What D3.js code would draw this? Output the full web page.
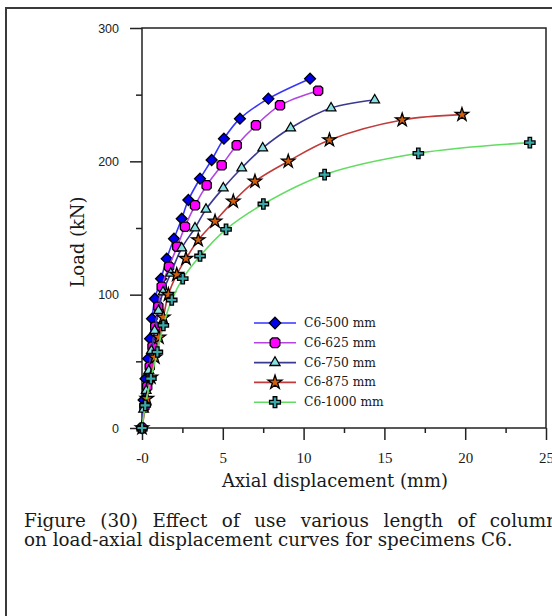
<!DOCTYPE html>
<html lang="en">
<head>
<meta charset="utf-8">
<title>Load - axial displacement, C6</title>
<script src="https://cdn.jsdelivr.net/npm/d3@7"></script>
<style>
  body { margin: 0; background: #fff; }
  svg { display: block; }
  .serif { font-family: "DejaVu Serif", "Liberation Serif", serif; fill: #1a1a1a; }
  .ytick text { font-family: "Liberation Sans", sans-serif; font-size: 12.5px; fill: #222; }
  .xtick text { font-family: "Liberation Serif", serif; font-size: 15px; fill: #1a1a1a; }
  .ytick line, .xtick line { stroke: #222; stroke-width: 1.5px; }
  .line { fill: none; stroke-width: 1.6px; }
</style>
</head>
<body>
<script>
  // values (displacement mm / load kN)
  const seriesNames = ['C6-500 mm', 'C6-625 mm', 'C6-750 mm', 'C6-875 mm', 'C6-1000 mm']

  const disp500 = [0, 0.1, 0.22, 0.38, 0.5, 0.62, 0.8, 1.18, 1.53, 1.98, 2.46, 2.87, 3.59, 4.31, 5.07, 6.06, 7.82, 10.4]
  const load500 = [0, 21, 37, 52, 67, 82, 97, 112, 127, 142, 157, 171, 187, 201, 217, 232, 247, 262]

  const disp625 = [0, 0.15, 0.32, 0.48, 0.65, 0.82, 1.01, 1.22, 1.67, 2.18, 2.66, 3.28, 4.0, 4.93, 5.86, 7.05, 8.54, 10.9]
  const load625 = [0, 16, 31, 46, 61, 76, 91, 106, 121, 136, 151, 167, 182, 197, 212, 227, 242, 253]

  const disp750 = [0, 0.1, 0.26, 0.42, 0.58, 0.78, 1.02, 1.3, 1.78, 2.46, 3.28, 3.96, 5.03, 6.17, 7.47, 9.2, 11.7, 14.4]
  const load750 = [0, 14, 28, 43, 58, 73, 88, 102, 116, 135, 150, 164, 180, 195, 210, 225, 240, 246]

  const disp875 = [0, 0.3, 0.55, 0.8, 1.05, 1.32, 1.63, 2.15, 2.72, 3.48, 4.52, 5.65, 6.99, 9.05, 11.6, 16.1, 19.8]
  const load875 = [0, 22, 38, 53, 68, 83, 100, 115, 127, 141, 155, 170, 185, 200, 216, 231, 235]

  const disp1000 = [0, 0.2, 0.55, 0.95, 1.32, 1.84, 2.52, 3.59, 5.2, 7.51, 11.3, 17.1, 24.0]
  const load1000 = [0, 17, 37, 57, 77, 96, 112, 129, 149, 168, 190, 206, 214]

  const xMajor = [0, 5, 10, 15, 20, 25]
  const xLabels = ['-0', '5', '10', '15', '20', '25']
  const xMinor = [2.5, 7.5, 12.5, 17.5, 22.5]
  const yMajor = [0, 100, 200, 300]
  const yMinor = [50, 150, 250]

  const captionLines = ['Figure (30) Effect of use various length of column',
                        'on load-axial displacement curves for specimens C6.']

  const W = 552, H = 616
  const svg = d3.select('body').append('svg')
    .attr('width', W).attr('height', H)

  // outer page frame
  svg.append('path')
    .attr('d', `M6,${H}V8H${W}`)
    .attr('fill', 'none').attr('stroke', '#3a3a3a').attr('stroke-width', 2)

  const x = d3.scaleLinear().domain([0, 25]).range([142, 546])
  const y = d3.scaleLinear().domain([0, 300]).range([428, 28])

  // axis box
  svg.append('rect')
    .attr('x', x(0)).attr('y', y(300))
    .attr('width', x(25) - x(0)).attr('height', y(0) - y(300))
    .attr('fill', 'none').attr('stroke', '#222').attr('stroke-width', 1.5)

  const xAxis = d3.axisBottom(x).tickValues(xMajor).tickSize(12)
    .tickFormat((d, i) => xLabels[i])
  svg.append('g').attr('class', 'xtick')
    .attr('transform', `translate(0,${y(0)})`)
    .call(xAxis)
    .call(g => g.select('.domain').remove())
    .call(g => g.selectAll('text').attr('y', 35).attr('dy', null))

  svg.append('g').attr('class', 'xtick')
    .attr('transform', `translate(0,${y(0)})`)
    .call(d3.axisBottom(x).tickValues(xMinor).tickSize(5).tickFormat(''))
    .call(g => g.select('.domain').remove())

  svg.append('g').attr('class', 'ytick')
    .attr('transform', `translate(${x(0)},0)`)
    .call(d3.axisLeft(y).tickValues(yMajor).tickSize(12).tickPadding(11))
    .call(g => g.select('.domain').remove())

  svg.append('g').attr('class', 'ytick')
    .attr('transform', `translate(${x(0)},0)`)
    .call(d3.axisLeft(y).tickValues(yMinor).tickSize(6).tickFormat(''))
    .call(g => g.select('.domain').remove())

  // scale a text's font so it spans the given width
  function fitWidth(sel, w) {
    const fs = parseFloat(sel.attr('font-size'))
    const len = sel.node().getComputedTextLength()
    sel.attr('font-size', (fs * w / len).toFixed(2))
  }

  const xTitle = svg.append('text').attr('class', 'serif')
    .attr('x', 335).attr('y', 487).attr('text-anchor', 'middle')
    .attr('font-size', 16).text('Axial displacement (mm)')
  fitWidth(xTitle, 226)

  svg.append('text').attr('class', 'serif')
    .attr('transform', 'translate(84,242) rotate(-90)')
    .attr('text-anchor', 'middle')
    .attr('font-size', xTitle.attr('font-size'))
    .text('Load (kN)')

  // markers
  const diamond = { draw(c, s) { const r = Math.sqrt(s / 2); c.moveTo(0, -r); c.lineTo(r, 0); c.lineTo(0, r); c.lineTo(-r, 0); c.closePath() } }
  const octagon = { draw(c, s) { const r = Math.sqrt(s) / 2, k = r * 0.45
    c.moveTo(-r + k, -r); c.lineTo(r - k, -r); c.lineTo(r, -r + k); c.lineTo(r, r - k)
    c.lineTo(r - k, r); c.lineTo(-r + k, r); c.lineTo(-r, r - k); c.lineTo(-r, -r + k); c.closePath() } }

  const series = [
    { name: seriesNames[0], xs: disp500, ys: load500, line: '#3535ff', fill: '#0000ee', sym: diamond, size: 60 },
    { name: seriesNames[1], xs: disp625, ys: load625, line: '#b444e4', fill: '#ff00ff', sym: octagon, size: 85 },
    { name: seriesNames[2], xs: disp750, ys: load750, line: '#3a3a92', fill: '#86e2e2', sym: d3.symbolTriangle, size: 40 },
    { name: seriesNames[3], xs: disp875, ys: load875, line: '#c23a3a', fill: '#d06010', sym: d3.symbolStar, size: 55 },
    { name: seriesNames[4], xs: disp1000, ys: load1000, line: '#62dd62', fill: '#3aa8a8', sym: d3.symbolCross, size: 60 }
  ]

  const curve = d3.line()
    .x(d => x(d[0])).y(d => y(d[1]))
    .curve(d3.curveCatmullRom.alpha(0.5))

  series.forEach(s => {
    const pts = s.xs.map((v, i) => [v, s.ys[i]])
    svg.append('path').datum(pts).attr('class', 'line')
      .attr('stroke', s.line).attr('d', curve)
    svg.append('g').selectAll('path').data(pts).join('path')
      .attr('transform', d => `translate(${x(d[0])},${y(d[1])})`)
      .attr('d', d3.symbol(s.sym, s.size))
      .attr('fill', s.fill).attr('stroke', '#000').attr('stroke-width', 1.3)
  })

  // legend
  const legend = svg.append('g')
  series.forEach((s, i) => {
    const ly = 323 + i * 19.8
    legend.append('line').attr('x1', 254).attr('x2', 296).attr('y1', ly).attr('y2', ly)
      .attr('stroke', s.line).attr('stroke-width', 1.6)
    legend.append('path').attr('transform', `translate(275,${ly})`)
      .attr('d', d3.symbol(s.sym, s.size * 1.1))
      .attr('fill', s.fill).attr('stroke', '#000').attr('stroke-width', 1.3)
    const t = legend.append('text').attr('class', 'serif')
      .attr('x', 304).attr('y', ly + 4).attr('font-size', 12).text(s.name)
    if (i === 0) fitWidth(t, 72)
    else t.attr('font-size', legend.select('text').attr('font-size'))
  })

  // caption
  const cap2 = svg.append('text').attr('class', 'serif')
    .attr('x', 24).attr('y', 546).attr('font-size', 16).text(captionLines[1])
  fitWidth(cap2, 489)
  const cap1 = svg.append('text').attr('class', 'serif')
    .attr('x', 24).attr('y', 527).attr('font-size', cap2.attr('font-size'))
    .text(captionLines[0])
  const gaps = captionLines[0].split(' ').length - 1
  const natural = cap1.node().getComputedTextLength()
  cap1.style('word-spacing', ((534 - natural) / gaps).toFixed(2) + 'px')
</script>
</body>
</html>
